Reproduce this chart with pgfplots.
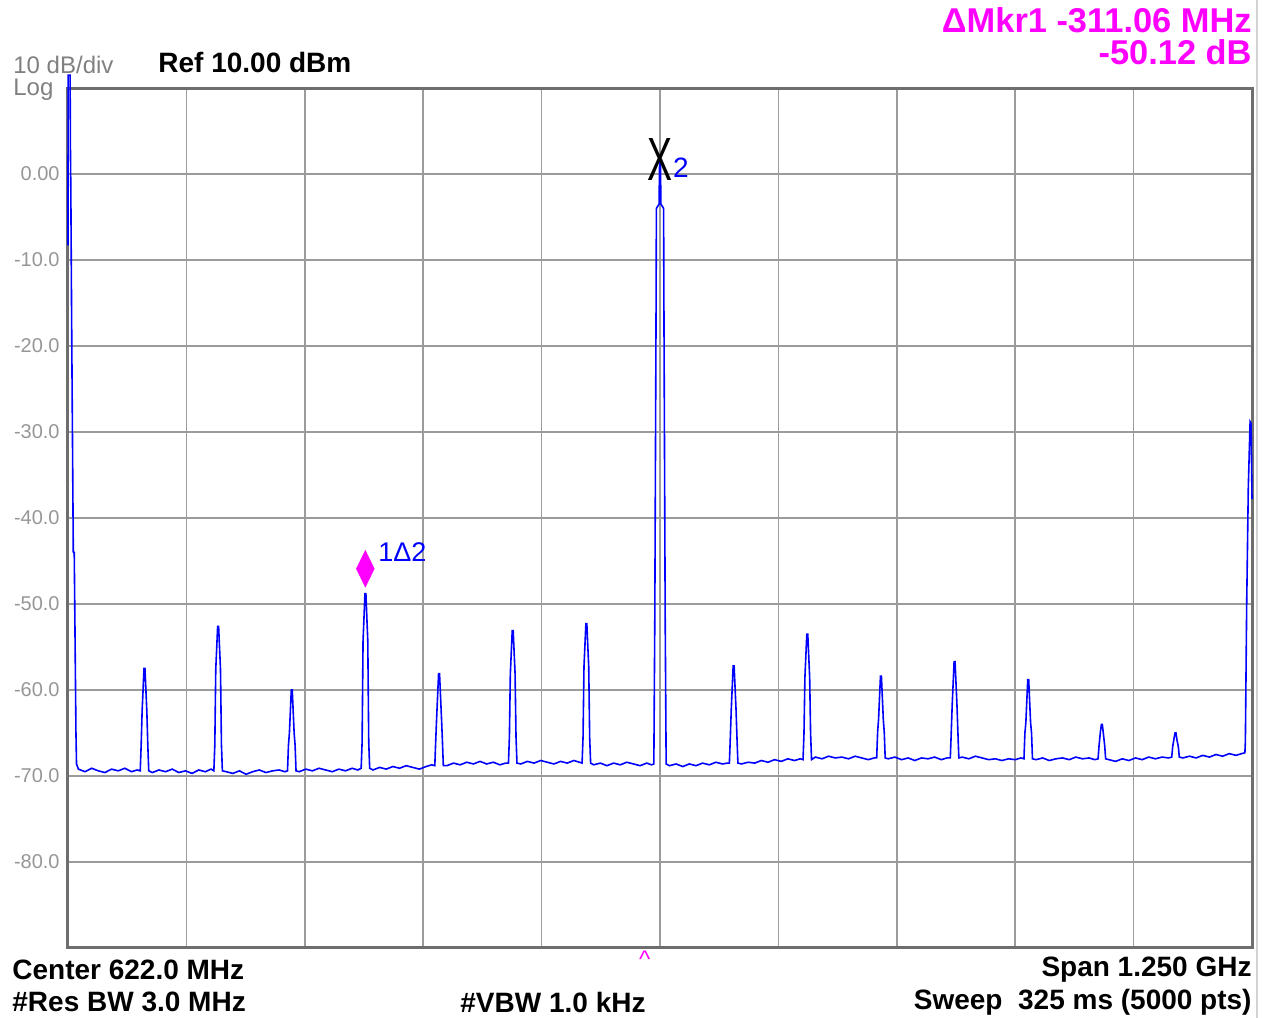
\documentclass[border=0pt]{standalone}
\usepackage{pgfplots}
\pgfplotsset{compat=1.18}
\usepackage{fontspec}
\setmainfont{Liberation Sans}
\definecolor{trace}{RGB}{0,0,255}
\definecolor{gridc}{RGB}{155,155,155}
\definecolor{framec}{RGB}{110,110,110}
\definecolor{lbl}{RGB}{150,150,150}
\definecolor{mkr}{RGB}{255,0,255}
\newcommand{\fs}[1]{\fontsize{#1}{#1}\selectfont}
\begin{document}
\begin{tikzpicture}
\path[use as bounding box] (0,0) rectangle (632.5pt,509pt);
\draw[gray!35, line width=1pt] (628.5pt,0) -- (628.5pt,509pt);
\begin{axis}[
  at={(34pt,35pt)}, anchor=south west,
  scale only axis, width=592pt, height=430pt,
  xmin=-3, xmax=1247, ymin=-90, ymax=10,
  clip=false,
  axis line style={framec, line width=1.5pt},
  grid=major,
  major grid style={gridc, line width=0.8pt},
  major tick length=0pt,
  xtick={122,247,372,497,622,747,872,997,1122},
  xticklabels={},
  ytick={-80,-70,-60,-50,-40,-30,-20,-10,0},
  yticklabels={-80.0,-70.0,-60.0,-50.0,-40.0,-30.0,-20.0,-10.0,0.00},
  yticklabel style={font=\fs{10}, text=lbl, anchor=east, inner sep=0pt, xshift=-4pt},
]
\addplot[trace, line width=0.8pt] coordinates {
(-3,-8.3)(-2.9,11.5)(-0.8,11.5)(-0.4,2.5)(0,-2)(0.9,-18)(2.6,-44)(3.6,-44)(5.4,-65)(6,-68.6)
(8,-69.2)(15,-69.5)(22,-69.1)(29,-69.4)(36,-69.6)(43,-69.2)(50,-69.4)(57,-69.1)(64,-69.5)(70,-69.3)
(73.25,-69.4)(74.25,-66.4)(75.25,-62.5)(77.25,-57.5)(78.25,-57.5)(80.25,-62.5)(81.25,-66.4)(82.25,-69.4)
(86,-69.6)(93,-69.3)(100,-69.5)(107,-69.2)(114,-69.6)(121,-69.4)(128,-69.7)(135,-69.3)(142,-69.5)(148,-69.2)
(151,-69.4)(152,-66.4)(153,-57.6)(155,-52.6)(156,-52.6)(158,-57.6)(159,-66.4)(160,-69.4)
(164,-69.5)(171,-69.7)(178,-69.4)(185,-69.8)(192,-69.5)(199,-69.3)(206,-69.6)(213,-69.4)(220,-69.3)(226,-69.5)
(228.75,-69.4)(229.75,-66.4)(230.75,-65)(232.75,-60)(233.75,-60)(235.75,-65)(236.75,-66.4)(237.75,-69.4)
(241,-69.5)(248,-69.2)(255,-69.4)(262,-69.1)(269,-69.3)(276,-69.5)(283,-69.2)(290,-69.4)(297,-69.1)(303,-69.3)
(306.5,-69.1)(307.5,-66.1)(308.5,-54.3)(310.5,-48.8)(311.5,-48.8)(313.5,-54.3)(314.5,-66.1)(315.5,-69.1)
(319,-69.3)(326,-69.0)(333,-69.2)(340,-68.9)(347,-69.1)(354,-68.8)(361,-69.0)(368,-69.2)(375,-68.9)(381,-68.7)
(384.25,-68.8)(385.25,-65.8)(386.25,-63.1)(388.25,-58.1)(389.25,-58.1)(391.25,-63.1)(392.25,-65.8)(393.25,-68.8)
(397,-68.8)(404,-68.5)(411,-68.7)(418,-68.4)(425,-68.6)(432,-68.3)(439,-68.6)(446,-68.4)(453,-68.7)(459,-68.5)
(462,-68.5)(463,-65.5)(464,-58.1)(466,-53.1)(467,-53.1)(469,-58.1)(470,-65.5)(471,-68.5)
(475,-68.6)(482,-68.3)(489,-68.5)(496,-68.2)(503,-68.4)(510,-68.6)(517,-68.3)(524,-68.5)(531,-68.2)(537,-68.4)
(539.75,-68.5)(540.75,-65.5)(541.75,-57.3)(543.75,-52.3)(544.75,-52.3)(546.75,-57.3)(547.75,-65.5)(548.75,-68.5)
(552,-68.7)(559,-68.5)(566,-68.8)(573,-68.5)(580,-68.7)(587,-68.4)(594,-68.6)(601,-68.8)(608,-68.5)(613,-68.7)
(615.5,-68.6)(616.5,-52)(617.8,-17)(618.2,-4)(621,-3.5)(621.6,1.5)(622.4,1.5)(623,-3.5)(625.8,-4)(626.2,-17)(627.5,-52)(628.5,-68.6)
(632,-68.8)(639,-68.6)(646,-68.9)(653,-68.6)(660,-68.8)(667,-68.5)(674,-68.7)(681,-68.4)(688,-68.6)(693,-68.5)
(695.25,-68.5)(696.25,-65.5)(697.25,-62.2)(699.25,-57.2)(700.25,-57.2)(702.25,-62.2)(703.25,-65.5)(704.25,-68.5)
(708,-68.6)(715,-68.4)(722,-68.5)(729,-68.2)(736,-68.4)(743,-68.1)(750,-68.3)(757,-68.0)(764,-68.2)(770,-68.0)
(773,-68.1)(774,-65.1)(775,-58.5)(777,-53.5)(778,-53.5)(780,-58.5)(781,-65.1)(782,-68.1)
(786,-67.8)(793,-68.0)(800,-67.7)(807,-67.9)(814,-67.8)(821,-68.0)(828,-67.7)(835,-67.9)(842,-68.1)(848,-67.9)
(850.75,-67.9)(851.75,-64.9)(852.75,-63.4)(854.75,-58.4)(855.75,-58.4)(857.75,-63.4)(858.75,-64.9)(859.75,-67.9)
(863,-68.0)(870,-67.8)(877,-68.1)(884,-67.9)(891,-68.2)(898,-67.9)(905,-68.0)(912,-67.8)(919,-68.1)(925,-67.9)
(928.5,-67.9)(929.5,-64.9)(930.5,-61.7)(932.5,-56.7)(933.5,-56.7)(935.5,-61.7)(936.5,-64.9)(937.5,-67.9)
(941,-67.8)(948,-68.0)(955,-67.7)(962,-67.9)(969,-68.1)(976,-68.0)(983,-68.2)(990,-68.0)(997,-68.1)(1003,-67.9)
(1006.25,-68)(1007.25,-65)(1008.25,-63.8)(1010.25,-58.8)(1011.25,-58.8)(1013.25,-63.8)(1014.25,-65)(1015.25,-68)
(1019,-68.1)(1026,-67.9)(1033,-68.2)(1040,-68.0)(1047,-67.9)(1054,-68.1)(1061,-67.8)(1068,-68.0)(1075,-67.9)(1081,-68.1)
(1084.5,-68)(1085.5,-66.5)(1087,-64.8)(1088,-64)(1089,-64)(1090,-65)(1091.5,-66.5)(1092.5,-68)
(1096,-68.1)(1103,-68.3)(1110,-68.0)(1117,-68.2)(1124,-67.9)(1131,-68.1)(1138,-67.8)(1145,-68.0)(1152,-67.8)(1159,-67.9)
(1162.25,-67.8)(1163.25,-66.6)(1164.75,-65.6)(1165.75,-65)(1166.75,-65)(1167.75,-65.8)(1169.25,-66.6)(1170.25,-67.8)
(1174,-67.9)(1181,-67.7)(1188,-67.9)(1195,-67.6)(1202,-67.8)(1209,-67.5)(1216,-67.7)(1223,-67.4)(1230,-67.6)(1236,-67.4)
(1239.5,-67.3)(1240,-66)(1241.4,-50)(1243.1,-36.4)(1245,-28.8)(1246,-29)(1247,-37.8)
};
% delta marker 1
\addplot[only marks, mark=diamond*, mark size=9pt,
  mark options={xscale=0.65, fill=mkr, draw=mkr}] coordinates {(310.9,-45.9)};
\node[text=trace, font=\fs{13.5}, inner sep=0pt] at (axis cs:350,-44) {1Δ2};
% reference marker 2
\node[inner sep=0pt] at (axis cs:622,1.7) {\resizebox{12.5pt}{21pt}{X}};
\node[text=trace, font=\fs{14}, inner sep=0pt] at (axis cs:644.2,0.7) {2};
\node[text=mkr, font=\fs{12}, inner sep=0pt] at (axis cs:606,-91.3) {\textasciicircum};
\end{axis}
% annotation texts
\node[anchor=west, text=lbl!85!black, font=\fs{12}, inner sep=0pt] at (6.5pt,476.5pt) {10 dB/div};
\node[anchor=west, text=lbl!85!black, font=\fs{12}, inner sep=0pt] at (6.5pt,464pt) {Log};
\node[anchor=west, font=\bfseries\fs{14}, inner sep=0pt] at (79pt,477.5pt) {Ref 10.00 dBm};
\node[anchor=east, text=mkr, font=\bfseries\fs{17.2}, inner sep=0pt] at (626pt,499pt) {ΔMkr1 -311.06 MHz};
\node[anchor=east, text=mkr, font=\bfseries\fs{17.2}, inner sep=0pt] at (626pt,483pt) {-50.12 dB};
\node[anchor=west, font=\bfseries\fs{14}, inner sep=0pt] at (6pt,24pt) {Center 622.0 MHz};
\node[anchor=west, font=\bfseries\fs{14}, inner sep=0pt] at (6pt,8pt) {\#Res BW 3.0 MHz};
\node[anchor=west, font=\bfseries\fs{14}, inner sep=0pt] at (230pt,8pt) {\#VBW 1.0 kHz};
\node[anchor=east, font=\bfseries\fs{14}, inner sep=0pt] at (626pt,24pt) {Span 1.250 GHz};
\node[anchor=east, font=\bfseries\fs{14}, inner sep=0pt] at (626pt,8pt) {Sweep\ \ 325 ms (5000 pts)};
\end{tikzpicture}
\end{document}
